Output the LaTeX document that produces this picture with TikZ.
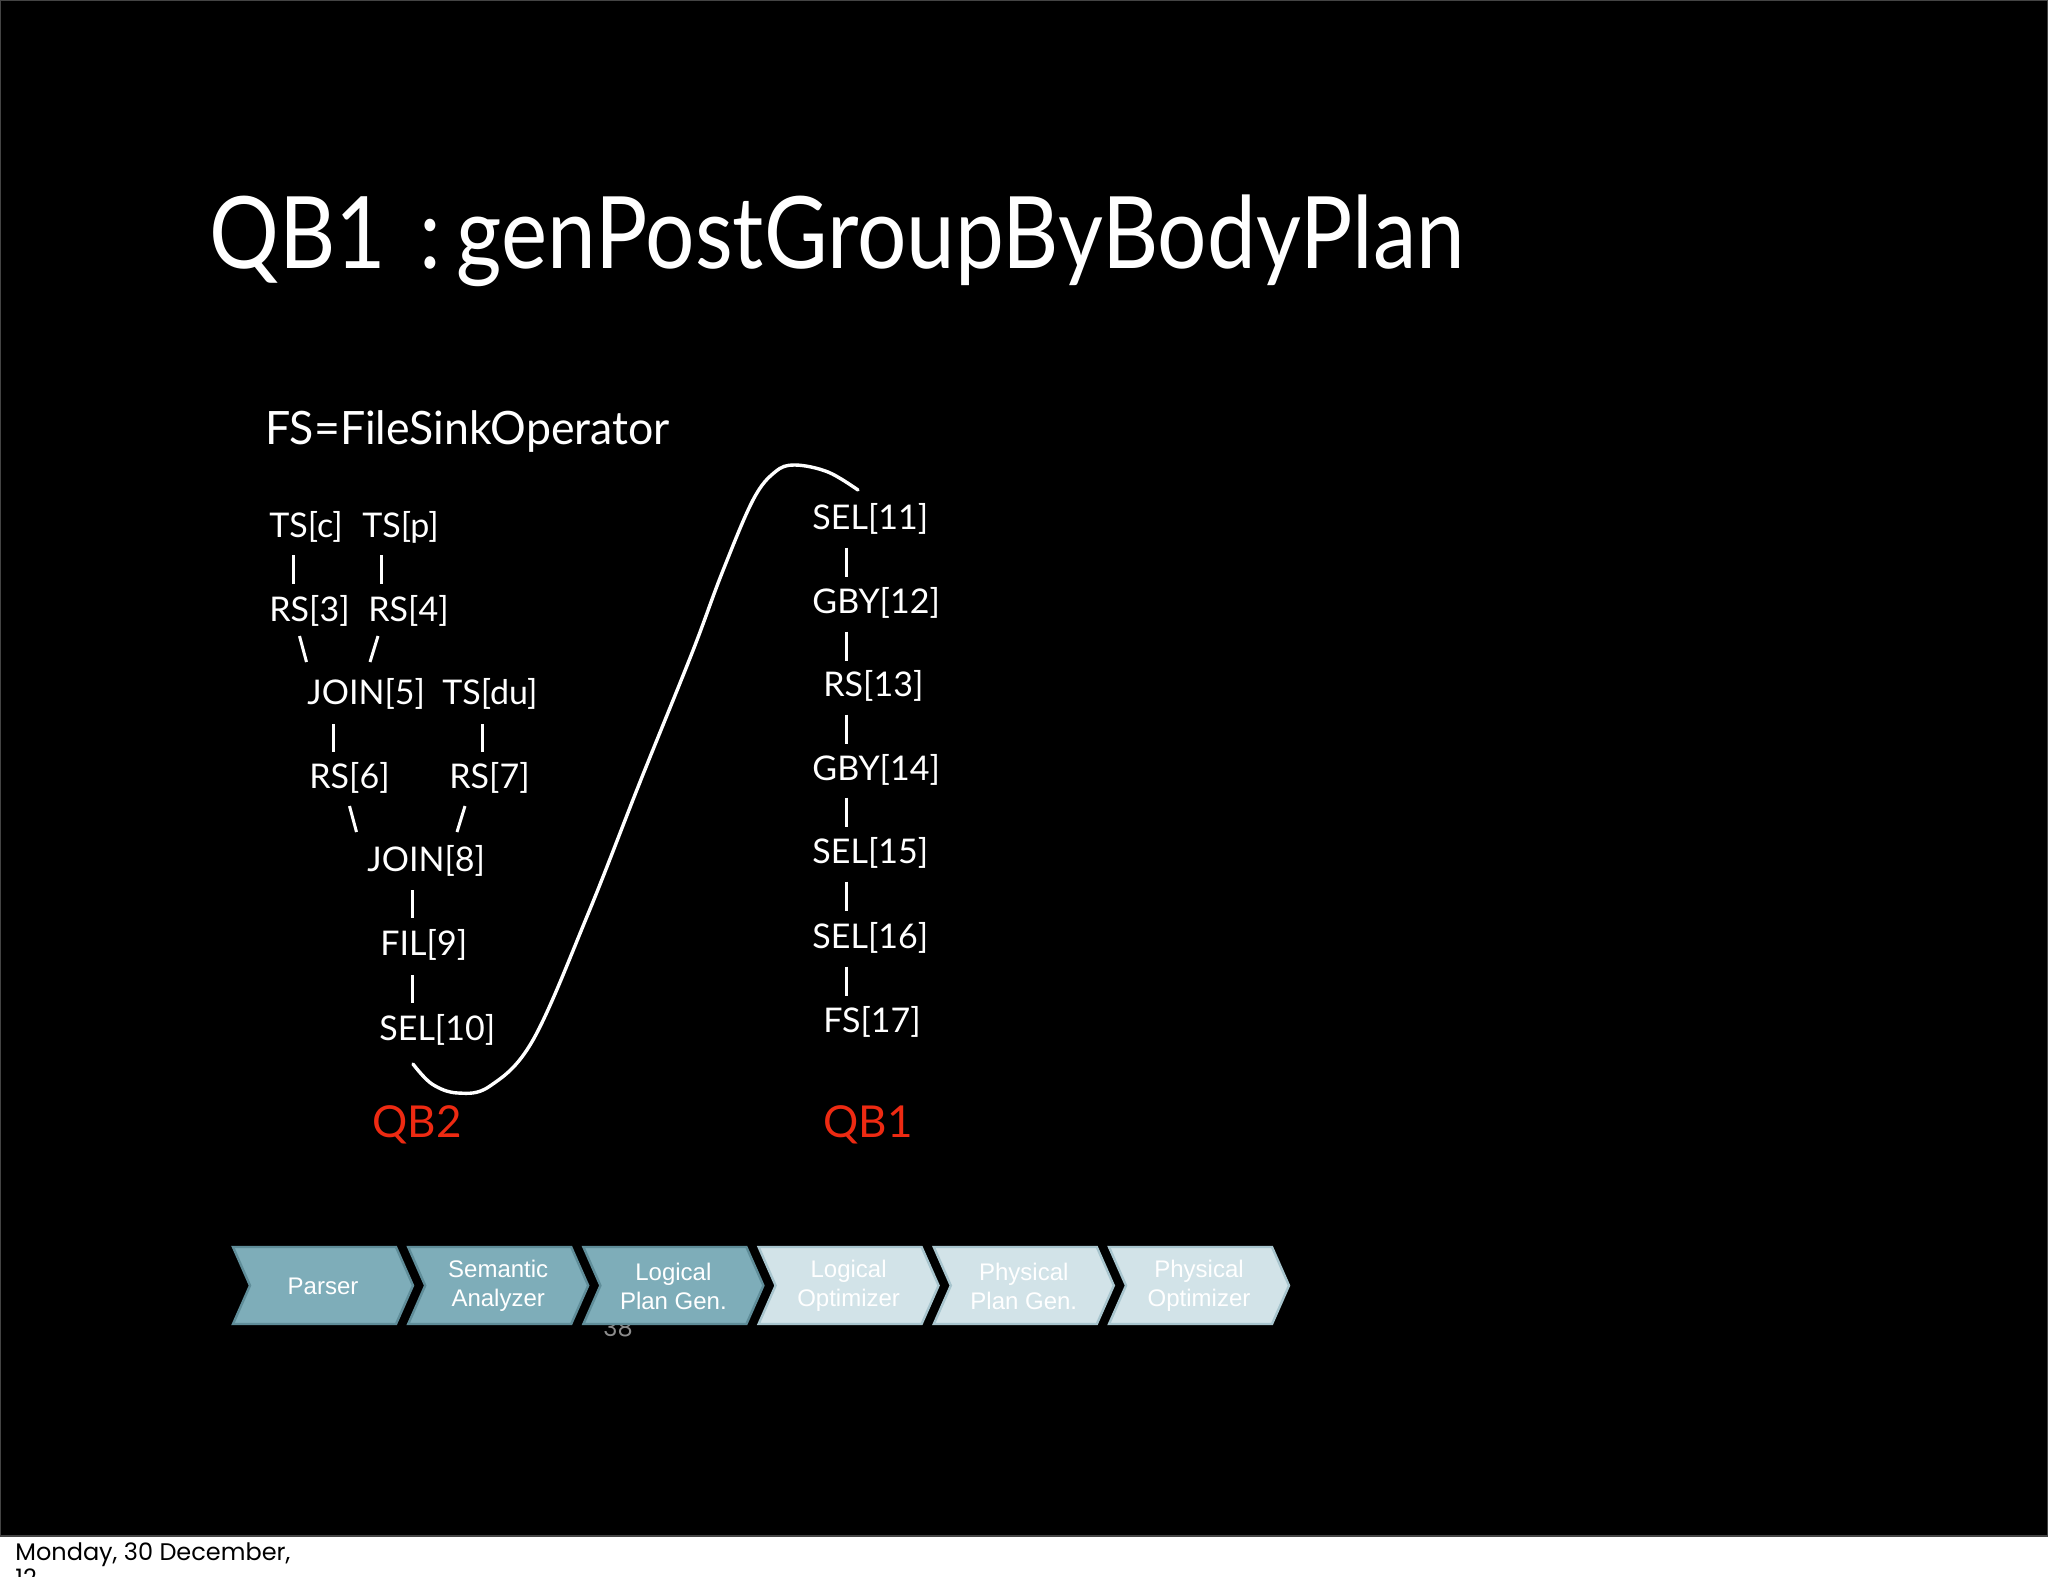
\documentclass[tikz,border=0pt]{standalone}
\usepackage{fontspec}
\setmainfont{Lato}
\newfontfamily\arialf{Liberation Sans}
\newfontfamily\gothicf{Poppins}
\definecolor{chevdark}{HTML}{7EADB9}
\definecolor{chevdarkb}{HTML}{5F8D99}
\definecolor{chevlight}{HTML}{D2E3E8}
\definecolor{chevlightb}{HTML}{A8C5CE}
\definecolor{qbred}{HTML}{EE2A12}
\definecolor{frameg}{HTML}{444444}
\newcommand{\mychev}[4]{%
  \draw[#2] (#1,1247) -- ++(163,0) -- ++(17,38.5) -- ++(-17,38.5) -- ++(-163,0) -- ++(17,-38.5) -- cycle;
  \node[chevtext] (#3) at (#1+90,1286) {#4};}
\begin{document}
\begin{tikzpicture}[x=0.5pt,y=-0.5pt,
  lbl/.style={anchor=base west, inner sep=0, text=white, font=\fontsize{17}{20}\selectfont},
  qb/.style={anchor=base west, inner sep=0, text=qbred, font=\fontsize{22}{26}\selectfont},
  bar/.style={draw=white, line width=1.5pt},
  darkchev/.style={fill=chevdark, draw=chevdarkb, line width=1.2pt},
  lightchev/.style={fill=chevlight, draw=chevlightb, line width=1.2pt},
  chevtext/.style={text=white, align=center, inner sep=0, font=\arialf\fontsize{12}{14.5}\selectfont}]
\useasboundingbox (0,0) rectangle (2048,1576);
\clip (0,0) rectangle (2048,1576);
\fill[white] (0,0) rectangle (2048,1576);
\draw[fill=black, draw=frameg, line width=1pt] (0,0) rectangle (2048,1536);

% title
\node[anchor=base west, inner sep=0, text=white, font=\fontsize{50}{60}\selectfont] (title) at (209,268) {\scalebox{0.872}[1]{QB1\hspace{19pt}:\hspace{9pt}genPostGroupByBodyPlan}};
\node[anchor=base west, inner sep=0, text=white, font=\fontsize{23}{28}\selectfont] (legend) at (265,444) {\scalebox{0.97}[1]{FS=FileSinkOperator}};

% left tree (QB2)
\node[lbl] (tsc) at (269,537) {TS[c]};
\node[lbl] (tsp) at (362,537) {TS[p]};
\node[lbl] (rs3) at (269,621) {RS[3]};
\node[lbl] (rs4) at (368,621) {RS[4]};
\node[lbl] (join5) at (307,704) {JOIN[5]};
\node[lbl] (tsdu) at (442,704) {TS[du]};
\node[lbl] (rs6) at (309,788) {RS[6]};
\node[lbl] (rs7) at (449,788) {RS[7]};
\node[lbl] (join8) at (367,871) {JOIN[8]};
\node[lbl] (fil9) at (380,955) {FIL[9]};
\node[lbl] (sel10) at (379,1040) {SEL[10]};

% right column (QB1)
\node[lbl] (sel11) at (812,529) {SEL[11]};
\node[lbl] (gby12) at (812,613) {GBY[12]};
\node[lbl] (rs13) at (823,696) {RS[13]};
\node[lbl] (gby14) at (812,780) {GBY[14]};
\node[lbl] (sel15) at (812,863) {SEL[15]};
\node[lbl] (sel16) at (812,948) {SEL[16]};
\node[lbl] (fs17) at (823,1032) {FS[17]};

% connectors of the left tree
\coordinate (a1) at (293,555);  \coordinate (a2) at (293,584);
\coordinate (b1) at (381,555);  \coordinate (b2) at (381,584);
\coordinate (c1) at (299.5,636);\coordinate (c2) at (306.5,662);
\coordinate (d1) at (378,636);  \coordinate (d2) at (370,662);
\coordinate (e1) at (333,724);  \coordinate (e2) at (333,752);
\coordinate (f1) at (482,724);  \coordinate (f2) at (482,752);
\coordinate (g1) at (349.5,806);\coordinate (g2) at (356.5,832);
\coordinate (h1) at (465,806);  \coordinate (h2) at (457,832);
\coordinate (i1) at (412,890);  \coordinate (i2) at (412,918);
\coordinate (j1) at (412,975);  \coordinate (j2) at (412,1003);
\foreach \p in {a,b,c,d,e,f,g,h,i,j} \draw[bar] (\p1) -- (\p2);

% connectors of the right column
\foreach \k/\yc in {1/562,2/646,3/729,4/812,5/896,6/981}{
  \coordinate (r\k a) at (846,\yc-14.5);
  \coordinate (r\k b) at (846,\yc+14.5);
  \draw[bar] (r\k a) -- (r\k b);}

% curve from QB2 to QB1
\draw[white, line width=1.7pt, line cap=round] plot[smooth, tension=0.6] coordinates {(413,1064) (432,1084) (458,1093) (490,1086) (533,1040) (588,914) (640,782) (692,653) (722,573) (753,500) (775,472) (795,465) (828,472) (858,490)};

% block labels
\node[qb] (qb2) at (372,1137) {QB2};
\node[qb] (qb1) at (823,1137) {QB1};

% page number hidden under the chevrons
\node[anchor=base, inner sep=0, text=black!45, font=\gothicf\fontsize{12}{14}\selectfont] (pnum) at (618,1336) {38};

% process chevrons
\mychev{233}{darkchev}{parser}{Parser}
\mychev{408.2}{darkchev}{sem}{Semantic\\Analyzer}
\mychev{583.4}{darkchev}{lpg}{Logical\\Plan Gen.}
\mychev{758.6}{lightchev}{lopt}{Logical\\Optimizer}
\mychev{933.8}{lightchev}{ppg}{Physical\\Plan Gen.}
\mychev{1109}{lightchev}{popt}{Physical\\Optimizer}

% footer
\node[anchor=base west, inner sep=0, text=black, font=\gothicf\fontsize{12}{13}\selectfont] (date) at (15,1560) {Monday, 30 December,};
\node[anchor=base west, inner sep=0, text=black, font=\gothicf\fontsize{12}{13}\selectfont] (year) at (15,1586) {12};
\end{tikzpicture}
\end{document}
